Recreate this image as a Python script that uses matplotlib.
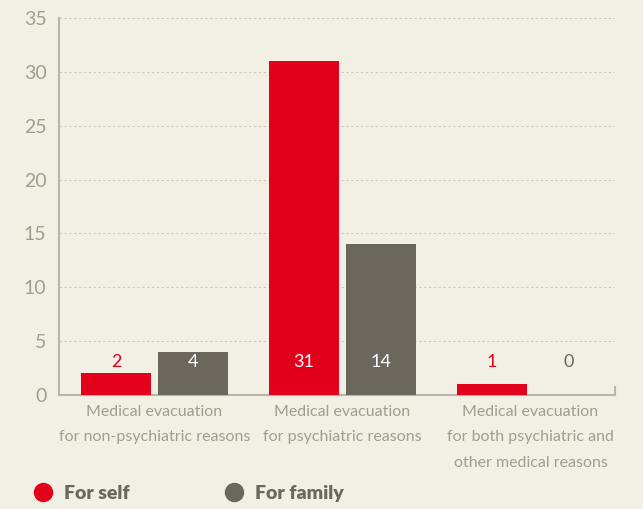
import matplotlib.pyplot as plt
from matplotlib.lines import Line2D
import numpy as np

plt.rcParams['font.family'] = ['Lato', 'DejaVu Sans']

categories = ["Medical evacuation\nfor non-psychiatric reasons",
              "Medical evacuation\nfor psychiatric reasons",
              "Medical evacuation\nfor both psychiatric and\nother medical reasons"]
for_self = [2, 31, 1]
for_family = [4, 14, 0]
series_names = ["For self", "For family"]
yticks = [0, 5, 10, 15, 20, 25, 30, 35]

bg = "#f2efe4"
red = "#e2001a"
grey = "#6b675c"
light = "#a09e90"

fig = plt.figure(figsize=(6.43, 5.09), dpi=100, facecolor=bg)
ax = fig.add_axes([0.0918, 0.224, 0.8645, 0.7406], facecolor=bg)

x = np.arange(len(categories))
w = 0.372
off = w / 2 + 0.0185
b1 = ax.bar(x - off, for_self, w, color=red, zorder=3)
b2 = ax.bar(x + off, for_family, w, color=grey, zorder=3)

# value labels sit at a fixed height; white inside tall bars
for bars, vals, col in [(b1, for_self, red), (b2, for_family, grey)]:
    for r, v in zip(bars, vals):
        c = "white" if v > 3.5 else col
        ax.text(r.get_x() + r.get_width() / 2, 3.05, str(v), ha="center", va="center",
                color=c, fontsize=13, zorder=4)

ax.set_xlim(-0.508, 2.449)
ax.set_ylim(0, 35)
ax.set_yticks(yticks)
ax.set_xticks(x)
ax.set_xticklabels(categories, color=light, fontsize=11.5, linespacing=2.05)
ax.tick_params(axis="y", colors=light, labelsize=14, length=0, pad=9)
ax.tick_params(axis="x", length=0, pad=7)
ax.grid(axis="y", color="#cdcabd", linestyle=(0, (2.5, 2.5)), linewidth=0.7, zorder=0)

for s in ["top", "right"]:
    ax.spines[s].set_visible(False)
for s in ["left", "bottom"]:
    ax.spines[s].set_color("#b8b5a8")
    ax.spines[s].set_linewidth(1.5)
ax.plot([1, 1], [0, 0.022], transform=ax.transAxes, color="#b8b5a8", lw=1.5, clip_on=False)

handles = [Line2D([], [], marker="o", linestyle="", markersize=13, color=red),
           Line2D([], [], marker="o", linestyle="", markersize=13, color=grey)]
leg = fig.legend(handles, series_names, loc="center left", bbox_to_anchor=(0.01, 0.031),
                 ncol=2, frameon=False, handletextpad=0.05, columnspacing=4.4,
                 handlelength=2.0, prop={"weight": "heavy", "size": 14})
for t in leg.get_texts():
    t.set_color(grey)

fig.savefig("out.png", dpi=100, facecolor=bg)
